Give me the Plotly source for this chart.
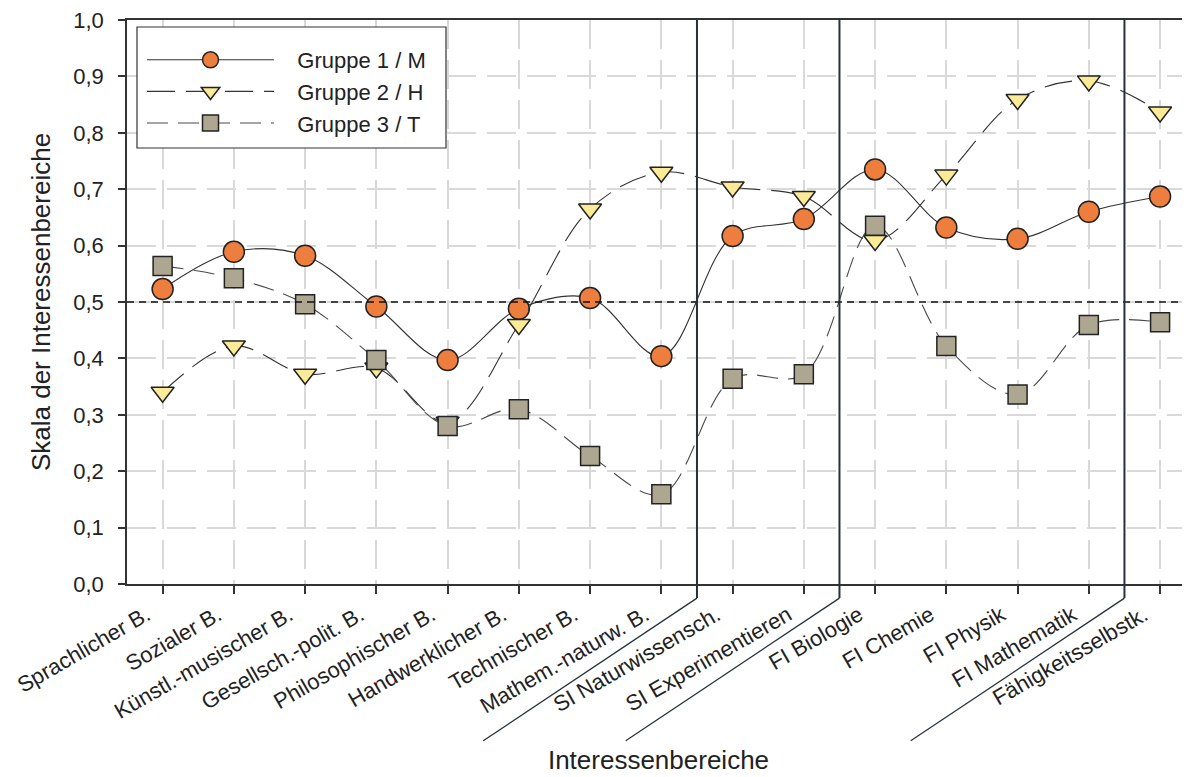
import plotly.graph_objects as go

categories = ["Sprachlicher B.", "Sozialer B.", "Künstl.-musischer B.", "Gesellsch.-polit. B.",
              "Philosophischer B.", "Handwerklicher B.", "Technischer B.", "Mathem.-naturw. B.",
              "SI Naturwissensch.", "SI Experimentieren", "FI Biologie", "FI Chemie",
              "FI Physik", "FI Mathematik", "Fähigkeitsselbstk."]

gruppe1_M = [0.523, 0.589, 0.582, 0.492, 0.397, 0.488, 0.507, 0.404,
             0.617, 0.647, 0.735, 0.632, 0.612, 0.660, 0.687]
gruppe2_H = [0.340, 0.422, 0.372, 0.383, 0.287, 0.460, 0.665, 0.730,
             0.704, 0.687, 0.609, 0.725, 0.859, 0.892, 0.837]
gruppe3_T = [0.564, 0.542, 0.496, 0.397, 0.280, 0.310, 0.227, 0.159,
             0.364, 0.372, 0.635, 0.422, 0.336, 0.459, 0.464]

series_names = ["Gruppe 1 / M", "Gruppe 2 / H", "Gruppe 3 / T"]
y_tickvals = [0.0, 0.1, 0.2, 0.3, 0.4, 0.5, 0.6, 0.7, 0.8, 0.9, 1.0]
y_ticktext = ["0,0", "0,1", "0,2", "0,3", "0,4", "0,5", "0,6", "0,7", "0,8", "0,9", "1,0"]
group_boundaries = [7.5, 9.5, 13.5]
reference_value = 0.5

FONT = "Arial, 'Liberation Sans', Helvetica, sans-serif"
XRANGE = [-0.5, 14.42]

# page body has an 8px default margin; plot area spans x 127..1190, y 20..584 on the page
OFF = 8
W, H = 1182, 769
ML, MR, MT, MB = 127 - OFF, 0, 20 - OFF, 769 - (584 - OFF)
PW = W - ML - MR
PH = H - MT - MB

def px_x(x):  # page pixel -> paper x
    return (x - OFF - ML) / PW

def px_y(y):  # page pixel -> paper y
    return (584 - y) / PH

fig = go.Figure()

# reference line at 0.5 across the full plot width (on a hidden overlay axis 0..1)
fig.add_trace(go.Scatter(
    x=[0, 1], y=[reference_value, reference_value], xaxis="x2", yaxis="y",
    mode="lines", line=dict(color="#111111", width=1.3, dash="7px,5px"),
    showlegend=False, hoverinfo="skip",
))

styles = [
    dict(symbol="circle", size=21, color="#EE7E3E", dash="solid", lcolor="#333333"),
    dict(symbol="triangle-down", size=20, color="#FBEA96", dash="28px,11px", lcolor="#333333"),
    dict(symbol="square", size=19, color="#ADA792", dash="21px,10px", lcolor="#4a4a4a"),
]
for name, vals, st in zip(series_names, [gruppe1_M, gruppe2_H, gruppe3_T], styles):
    fig.add_trace(go.Scatter(
        x=categories, y=vals, name="\u00a0\u00a0\u00a0" + name,
        mode="lines+markers",
        line=dict(color=st["lcolor"], width=1.1, dash=st["dash"], shape="spline", smoothing=1.0),
        marker=dict(symbol=st["symbol"], size=st["size"], color=st["color"],
                    line=dict(color="#222222", width=1.5)),
    ))

def xp(idx):
    return (idx - XRANGE[0]) / (XRANGE[1] - XRANGE[0])

shapes = []
for b in group_boundaries:
    shapes.append(dict(type="line", xref="paper", yref="paper", x0=xp(b), x1=xp(b), y0=-0.025, y1=1,
                       line=dict(color="#263238", width=2)))
    shapes.append(dict(type="line", xref="paper", yref="paper", x0=xp(b), x1=xp(b - 3.0), y0=-0.025, y1=-0.278,
                       line=dict(color="#263238", width=1.3)))
shapes.append(dict(type="rect", xref="paper", yref="paper",
                   x0=px_x(137), x1=px_x(446), y0=px_y(148), y1=px_y(27),
                   line=dict(color="#333333", width=1.2), fillcolor="white", layer="above"))

fig.update_layout(
    width=W, height=H,
    margin=dict(l=ML, r=MR, t=MT, b=MB, autoexpand=False),
    paper_bgcolor="white", plot_bgcolor="white",
    font=dict(family=FONT, color="#222222", size=20),
    showlegend=True,
    legend=dict(x=px_x(142), y=px_y(39), xanchor="left", yanchor="top",
                bgcolor="rgba(0,0,0,0)", borderwidth=0, itemwidth=127,
                font=dict(family=FONT, size=22, color="#222222"), tracegroupgap=0),
    shapes=shapes,
    xaxis=dict(
        type="category", range=XRANGE, categoryorder="array", categoryarray=categories,
        showline=True, linecolor="#333333", linewidth=1.5, mirror=True,
        ticks="outside", ticklen=8, tickwidth=1.5, tickcolor="#333333",
        tickangle=-30, tickfont=dict(family=FONT, size=22, color="#222222"), ticklabelshift=-16,
        showgrid=True, gridcolor="#d9d9d9", gridwidth=1.5, griddash="29px,11px",
        zeroline=False,
        title=dict(text="Interessenbereiche", font=dict(family=FONT, size=26, color="#222222"), standoff=28),
    ),
    xaxis2=dict(overlaying="x", range=[0, 1], visible=False, showgrid=False, zeroline=False),
    yaxis=dict(
        range=[0, 1.0], tickmode="array", tickvals=y_tickvals, ticktext=y_ticktext,
        ticklabeloverflow="allow",
        showline=True, linecolor="#333333", linewidth=1.5,
        ticks="outside", ticklen=7, tickwidth=1.5, tickcolor="#333333",
        tickfont=dict(family=FONT, size=22, color="#222222"), ticklabelstandoff=10,
        showgrid=True, gridcolor="#d9d9d9", gridwidth=1.5, griddash="29px,11px",
        zeroline=False,
        title=dict(text="Skala der Interessenbereiche", font=dict(family=FONT, size=26, color="#222222"), standoff=15),
    ),
)

fig.write_html("out.html")
